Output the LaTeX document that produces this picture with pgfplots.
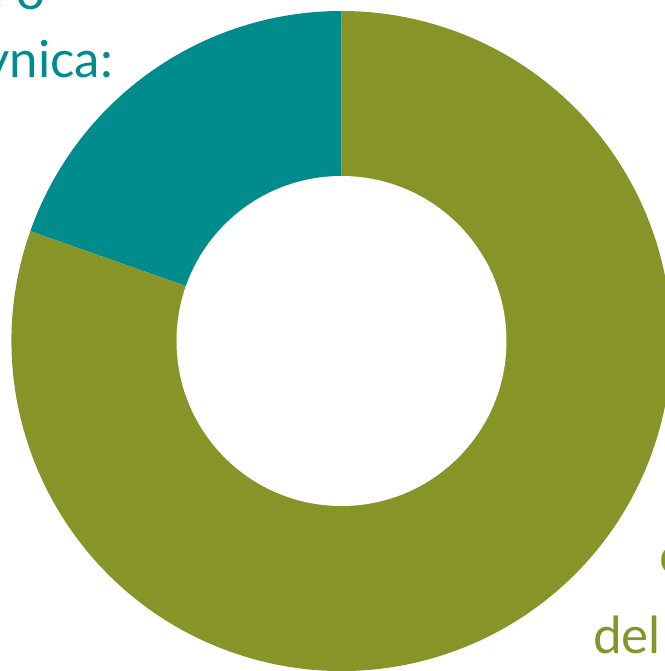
\documentclass[border=0pt]{standalone}
\usepackage{pgfplots}
\pgfplotsset{compat=1.18}
\usepackage{fontspec}
\setmainfont{Lato}
\usetikzlibrary{calc}

\definecolor{tealslice}{RGB}{0,139,140}
\definecolor{oliveslice}{RGB}{135,148,39}

% share of each slice, in percent
\newcommand\vteal{19.6}
\newcommand\volive{80.4}

% slices start at the top and run counterclockwise
\pgfmathsetmacro\aA{90}
\pgfmathsetmacro\aB{90+3.6*\vteal}
\pgfmathsetmacro\aC{\aB+3.6*\volive}

\begin{document}
\begin{tikzpicture}[lbl/.style={inner sep=0pt, font=\fontsize{51bp}{60bp}\selectfont}]
\useasboundingbox (0,0) rectangle (665bp,671bp);
\clip (0,0) rectangle (665bp,671bp);
\begin{axis}[x=1bp, y=1bp, xmin=0, xmax=665, ymin=0, ymax=671,
  hide axis, scale only axis, at={(0,0)}, anchor=south west]
  \fill[tealslice] (axis cs:341.5,330) -- ++(\aA:330bp)
    arc[start angle=\aA, end angle=\aB, radius=330bp] -- cycle;
  \fill[oliveslice] (axis cs:341.5,330) -- ++(\aB:330bp)
    arc[start angle=\aB, end angle=\aC, radius=330bp] -- cycle;
  \fill[white] (axis cs:341.5,330) circle[radius=165bp];
\end{axis}
\node[lbl, anchor=base east, text=tealslice] at (46bp,661bp) {Sanatorie e o};
\node[lbl, anchor=base east, text=tealslice] at (113bp,593bp) {Krynica:};
\node[lbl, anchor=base west, text=oliveslice] at (659bp,97bp) {contributo};
\node[lbl, anchor=base west, text=oliveslice] at (593bp,18bp) {del totale};
\end{tikzpicture}
\end{document}
